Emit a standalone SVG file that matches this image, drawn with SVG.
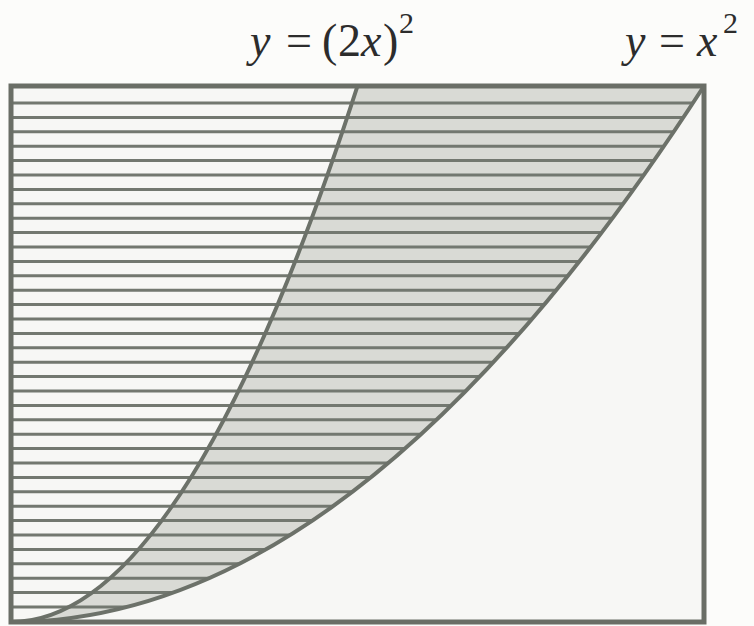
<svg xmlns="http://www.w3.org/2000/svg" width="754" height="626" viewBox="0 0 754 626">
  <style>
    .lbl { font-family: "Liberation Serif", "Times New Roman", serif; font-size: 46px; fill: #2c2c2c; }
    .it { font-style: italic; }
    .sup { font-size: 30px; }
    .hatch { stroke: #737870; stroke-width: 3; fill: none; }
    .curve { stroke: #6c7169; stroke-width: 4; fill: none; }
    .frame { stroke: #6a6e66; stroke-width: 5; fill: none; }
  </style>
  <defs>
    <clipPath id="leftOfX2">
      <path d="M11,622 Q357.5,622 704,86 L11,86 Z"/>
    </clipPath>
  </defs>
  <rect x="0" y="0" width="754" height="626" fill="#fcfcfa"/>
  <g id="plot">
    <rect id="inner" x="11" y="86" width="693" height="536" fill="#f7f7f5"/>
    <path id="shaded-region" d="M11,622 Q357.5,622 704,86 L357.5,86 Q184.25,622 11,622 Z" fill="#d9dad5"/>
    <path id="hatching" class="hatch" clip-path="url(#leftOfX2)" d="M11 103H704M11 117.4H704M11 131.8H704M11 146.2H704M11 160.6H704M11 175H704M11 189.4H704M11 203.8H704M11 218.2H704M11 232.6H704M11 247H704M11 261.4H704M11 275.8H704M11 290.2H704M11 304.6H704M11 319H704M11 333.4H704M11 347.8H704M11 362.2H704M11 376.6H704M11 391H704M11 405.4H704M11 419.8H704M11 434.2H704M11 448.6H704M11 463H704M11 477.4H704M11 491.8H704M11 506.2H704M11 520.6H704M11 535H704M11 549.4H704M11 563.8H704M11 578.2H704M11 592.6H704M11 607H704"/>
  </g>
  <g id="connectors">
    <path id="curve-2x-sq" class="curve" d="M11,622 Q184.25,622 357.5,86"/>
    <path id="curve-x-sq" class="curve" d="M11,622 Q357.5,622 704,86"/>
  </g>
  <rect id="frame" class="frame" x="11" y="86" width="693" height="536"/>
  <g id="label-2x">
    <text class="lbl" y="56"><tspan class="it" x="250">y</tspan><tspan x="286">=</tspan><tspan x="322">(</tspan><tspan x="338">2</tspan><tspan class="it" x="361">x</tspan><tspan x="383">)</tspan><tspan class="sup" x="399" y="33">2</tspan></text>
  </g>
  <g id="label-x">
    <text class="lbl" y="56"><tspan class="it" x="625">y</tspan><tspan x="659">=</tspan><tspan class="it" x="697">x</tspan><tspan class="sup" x="723" y="33">2</tspan></text>
  </g>
</svg>
